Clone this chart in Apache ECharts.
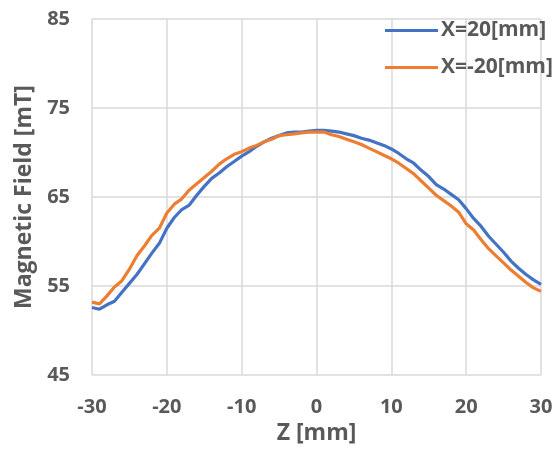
<!DOCTYPE html>
<html>
<head>
<meta charset="utf-8">
<script src="https://cdn.jsdelivr.net/npm/echarts@6/dist/echarts.min.js"></script>
<style>html,body{margin:0;padding:0;background:#fff;}#c{width:557px;height:450px;}</style>
</head>
<body>
<div id="c"></div>
<script>
const zValues = [-30,-29,-28,-27,-26,-25,-24,-23,-22,-21,-20,-19,-18,-17,-16,-15,-14,-13,-12,-11,-10,-9,-8,-7,-6,-5,-4,-3,-2,-1,0,1,2,3,4,5,6,7,8,9,10,11,12,13,14,15,16,17,18,19,20,21,22,23,24,25,26,27,28,29,30];
const fieldX20 = [52.6,52.4,52.9,53.3,54.3,55.3,56.3,57.5,58.7,59.8,61.5,62.7,63.6,64.1,65.2,66.2,67.1,67.7,68.4,69.0,69.6,70.1,70.7,71.2,71.6,71.9,72.2,72.3,72.3,72.4,72.5,72.5,72.4,72.3,72.1,71.9,71.6,71.4,71.1,70.8,70.4,69.9,69.3,68.8,68.0,67.3,66.4,65.9,65.3,64.7,63.7,62.6,61.7,60.6,59.7,58.8,57.8,57.0,56.3,55.7,55.2];
const fieldXm20 = [53.2,53.0,53.9,54.9,55.6,56.9,58.4,59.5,60.7,61.5,63.2,64.2,64.8,65.8,66.5,67.2,67.9,68.7,69.3,69.8,70.1,70.5,70.8,71.2,71.5,71.9,72.0,72.1,72.2,72.3,72.3,72.3,72.0,71.8,71.5,71.2,70.9,70.5,70.1,69.7,69.3,68.8,68.2,67.6,66.8,66.0,65.2,64.6,64.0,63.3,62.0,61.3,60.2,59.2,58.4,57.6,56.8,56.1,55.4,54.8,54.4];
const seriesNames = ['X=20[mm]', 'X=-20[mm]'];
const xAxisTitle = 'Z [mm]';
const yAxisTitle = 'Magnetic Field [mT]';

const font = 'Open Sans';
const txt = '#595959';
const chart = echarts.init(document.getElementById('c'), null, {renderer: 'canvas'});
const pairs = (ys) => zValues.map((z, i) => [z, ys[i]]);
chart.setOption({
  animation: false,
  backgroundColor: '#fff',
  grid: {left: 92, right: 16, top: 19, bottom: 72, containLabel: false},
  legend: {
    orient: 'vertical', left: 380, top: 15, itemGap: 16,
    itemWidth: 53, itemHeight: 3, icon: 'rect',
    textStyle: {fontFamily: font, fontSize: 21, fontWeight: 'bold', color: txt, padding: [0,0,0,-2]},
    data: seriesNames
  },
  xAxis: {
    type: 'value', min: -30, max: 30, interval: 10,
    name: xAxisTitle, nameLocation: 'middle', nameGap: 40,
    nameTextStyle: {fontFamily: font, fontSize: 23, fontWeight: 'bold', color: txt},
    axisLine: {show: false}, axisTick: {show: false},
    axisLabel: {fontFamily: font, fontSize: 20, fontWeight: 'bold', color: txt, margin: 22},
    splitLine: {show: true, lineStyle: {color: '#d9d9d9', width: 1.5}}
  },
  yAxis: {
    type: 'value', min: 45, max: 85, interval: 10,
    name: yAxisTitle, nameLocation: 'middle', nameGap: 56,
    nameTextStyle: {fontFamily: font, fontSize: 23, fontWeight: 'bold', color: txt},
    axisLine: {show: false}, axisTick: {show: false},
    axisLabel: {fontFamily: font, fontSize: 20, fontWeight: 'bold', color: txt, margin: 22},
    splitLine: {show: true, lineStyle: {color: '#d9d9d9', width: 1.5}}
  },
  series: [
    {name: seriesNames[0], type: 'line', data: pairs(fieldX20), showSymbol: false, symbol: 'none',
     lineStyle: {color: '#4472C4', width: 3.2}, itemStyle: {color: '#4472C4'}},
    {name: seriesNames[1], type: 'line', data: pairs(fieldXm20), showSymbol: false, symbol: 'none',
     lineStyle: {color: '#ED7D31', width: 3.2}, itemStyle: {color: '#ED7D31'}}
  ]
});
</script>
</body>
</html>
